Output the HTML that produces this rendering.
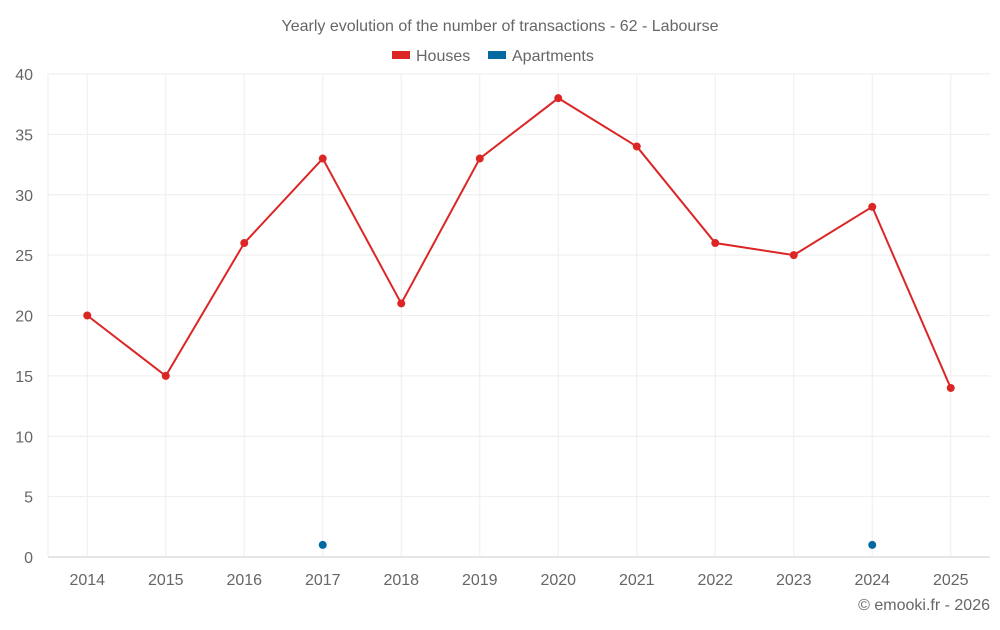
<!DOCTYPE html>
<html><head><meta charset="utf-8"><style>
body{margin:0;background:#fff;font-family:"Liberation Sans",sans-serif}
svg text{font-family:"Liberation Sans",sans-serif;fill:#666}
</style></head><body>
<svg id="c" width="1000" height="625">
<text x="500" y="31" text-anchor="middle" font-size="16">Yearly evolution of the number of transactions - 62 - Labourse</text>
<g>
<rect x="392" y="51" width="18" height="8" fill="#dc2626"/>
<text x="416" y="61" font-size="16">Houses</text>
<rect x="488" y="51" width="18" height="8" fill="#0369a1"/>
<text x="512" y="61" font-size="16">Apartments</text>
</g>
<g id="grid"></g><g id="marks"></g>
<text x="990" y="610" text-anchor="end" font-size="16">© emooki.fr - 2026</text>
</svg>
<script>
const years=["2014","2015","2016","2017","2018","2019","2020","2021","2022","2023","2024","2025"];
const houses=[20,15,26,33,21,33,38,34,26,25,29,14];
const apartments=[null,null,null,1,null,null,null,null,null,null,1,null];
const yTicks=[0,5,10,15,20,25,30,35,40];
const L=48,R=990,T=74,B=557,NS="http://www.w3.org/2000/svg";
const bw=(R-L)/years.length;
const xs=i=>L+bw*(i+0.5), ys=v=>B-(v/40)*(B-T);
const g=document.getElementById('grid'),m=document.getElementById('marks');
function mk(p,tag,a){const e=document.createElementNS(NS,tag);for(const k in a)e.setAttribute(k,a[k]);p.appendChild(e);return e;}
yTicks.forEach(v=>{
 const l=mk(g,'line',{x1:L,x2:R,y1:ys(v),y2:ys(v),stroke:v===0?'#ccc':'#eee'});
 
 
 const t=mk(g,'text',{x:33,y:ys(v)+6,'text-anchor':'end','font-size':16});t.textContent=v;
 
 
});
years.forEach((y,i)=>{
 const l=mk(g,'line',{x1:xs(i),x2:xs(i),y1:T,y2:B,stroke:'#eee'});
 
 
 const t=mk(g,'text',{x:xs(i),y:585,'text-anchor':'middle','font-size':16});t.textContent=y;
 
 
});
const al=mk(g,'line',{x1:L,x2:L,y1:T,y2:B,stroke:'#eee'});


const p=mk(m,'polyline',{points:houses.map((v,i)=>xs(i)+','+ys(v)).join(' '),fill:'none',stroke:'#dc2626','stroke-width':2});


houses.forEach((v,i)=>{const c=mk(m,'circle',{cx:xs(i),cy:ys(v),r:4,fill:'#dc2626'});
 
 });
apartments.forEach((v,i)=>{if(v==null)return;const c=mk(m,'circle',{cx:xs(i),cy:ys(v),r:4,fill:'#0369a1'});
 
 });
</script>
</body></html>
